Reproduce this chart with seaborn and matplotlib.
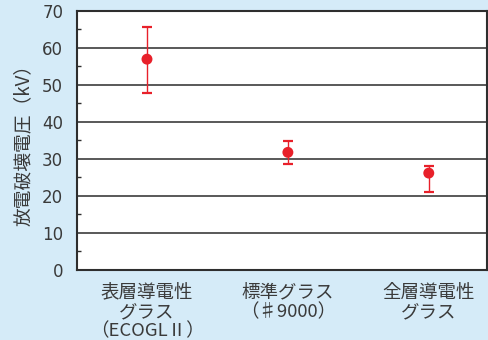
import matplotlib
matplotlib.use("Agg")
import matplotlib.pyplot as plt
from matplotlib.ticker import MultipleLocator
import seaborn as sns
import pandas as pd

# Breakdown voltage by glass type: mean with min/max range
categories = ["表層導電性\nグラス\n（ECOGLⅡ）", "標準グラス\n（♯9000）", "全層導電性\nグラス"]
mean_kv = [56.9, 31.7, 26.1]
upper_kv = [65.6, 34.8, 28.1]
lower_kv = [47.8, 28.5, 21.1]

y_label = "放電破壊電圧（kV）"
y_ticks = [0, 10, 20, 30, 40, 50, 60, 70]

bg = "#d5ebf8"
red = "#e8202a"
ink = "#3a3a3a"

sns.set_theme(style="white")
plt.rcParams["font.family"] = ["Noto Sans CJK JP", "DejaVu Sans"]

df = pd.DataFrame({"category": categories, "mean": mean_kv,
                   "upper": upper_kv, "lower": lower_kv})

fig = plt.figure(figsize=(4.88, 3.40), dpi=100, facecolor=bg)
ax = fig.add_axes([0.158, 0.207, 0.839, 0.7615])
ax.set_facecolor("white")

x = list(range(len(categories)))
err_lo = [m - l for m, l in zip(df["mean"], df["lower"])]
err_hi = [u - m for m, u in zip(df["mean"], df["upper"])]
ax.errorbar(x, df["mean"], yerr=[err_lo, err_hi], fmt="none",
            ecolor=red, elinewidth=1.0, capsize=3.4, capthick=1.6, zorder=3)
sns.scatterplot(data=df, x="category", y="mean", ax=ax, color=red,
                s=62, edgecolor="none", zorder=4, legend=False)

ax.set_xlim(-0.496, 2.41)
ax.set_ylim(0, 70)
ax.set_yticks(y_ticks)
ax.yaxis.set_minor_locator(MultipleLocator(5))
ax.grid(axis="y", which="major", color="#3c3c3c", linewidth=1.2)
ax.set_axisbelow(True)

for s in ax.spines.values():
    s.set_color("#2e2e2e")
    s.set_linewidth(1.5)

ax.tick_params(axis="y", which="major", direction="in", length=0, pad=10,
               labelsize=12, labelcolor=ink)
ax.tick_params(axis="y", which="minor", direction="in", length=3,
               width=1.0, color="#2e2e2e", left=True)
for lbl in ax.get_yticklabels():
    lbl.set_fontfamily("DejaVu Sans")
ax.tick_params(axis="x", length=0, pad=10, labelsize=13.3, labelcolor=ink)
for lbl in ax.get_xticklabels():
    lbl.set_linespacing(1.1)

ax.set_xlabel("")
ax.set_ylabel(y_label, fontsize=13.5, color=ink, labelpad=6)

fig.savefig("out.png", dpi=100, facecolor=bg)
